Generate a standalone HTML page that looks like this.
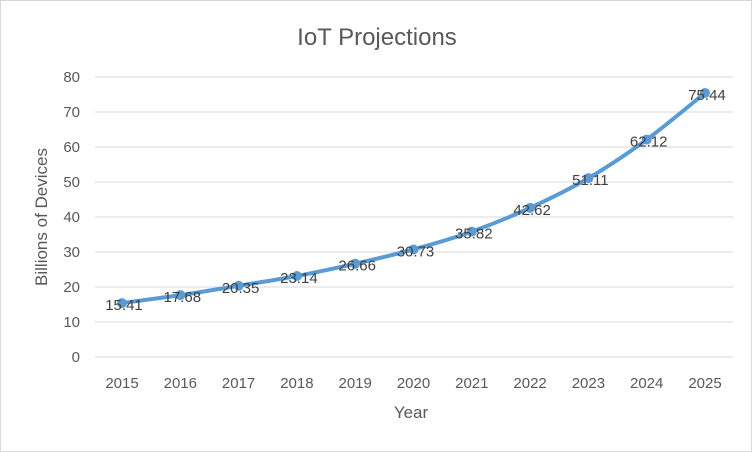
<!DOCTYPE html>
<html><head><meta charset="utf-8"><style>
body{margin:0;background:#fff;}
svg{display:block;font-family:"Liberation Sans",Calibri,sans-serif;}
</style></head><body>
<svg id="chart" width="752" height="452">
<rect x="0.5" y="0.5" width="751" height="451" fill="#fff" stroke="#d9d9d9"/>
<text x="377" y="45" text-anchor="middle" font-size="24" fill="#595959">IoT Projections</text>
<g id="grid"></g><g id="yticks"></g><g id="xticks"></g><g id="series"></g><g id="labels"></g>
<text x="411" y="418" text-anchor="middle" font-size="17" fill="#595959">Year</text>
<text transform="translate(47,217) rotate(-90)" text-anchor="middle" font-size="17" fill="#595959">Billions of Devices</text>
</svg>
<script>
const years=["2015","2016","2017","2018","2019","2020","2021","2022","2023","2024","2025"];
const values=[15.41,17.68,20.35,23.14,26.66,30.73,35.82,42.62,51.11,62.12,75.44];
const yTicks=[0,10,20,30,40,50,60,70,80];
const NS="http://www.w3.org/2000/svg";
const x0=122,x1=705,yBase=357,yTop=77,yMax=80;
const xs=i=>x0+(x1-x0)*i/(years.length-1);
const ys=v=>yBase-(yBase-yTop)*v/yMax;
function mk(tag,attrs,parent,text){const e=document.createElementNS(NS,tag);for(const k in attrs)e.setAttribute(k,attrs[k]);if(text!==undefined)e.textContent=text;document.getElementById(parent).appendChild(e);return e;}
yTicks.forEach(t=>{
 const l=mk("line",{x1:95,x2:733,y1:ys(t),y2:ys(t),stroke:"#d9d9d9","stroke-width":1},"grid");
 
 
 const tx=mk("text",{x:80,y:ys(t)+5,"text-anchor":"end","font-size":15,fill:"#595959"},"yticks",t);
 
 
});
years.forEach((y,i)=>{
 const tx=mk("text",{x:xs(i),y:388,"text-anchor":"middle","font-size":15,fill:"#595959"},"xticks",y);
 
 
});
const pts=values.map((v,i)=>[xs(i),ys(v)]);
let d="M"+pts[0][0]+","+pts[0][1];
for(let i=0;i<pts.length-1;i++){
 const p0=pts[Math.max(0,i-1)],p1=pts[i],p2=pts[i+1],p3=pts[Math.min(pts.length-1,i+2)];
 const c1=[p1[0]+(p2[0]-p0[0])/6,p1[1]+(p2[1]-p0[1])/6];
 const c2=[p2[0]-(p3[0]-p1[0])/6,p2[1]-(p3[1]-p1[1])/6];
 d+=` C${c1[0]},${c1[1]} ${c2[0]},${c2[1]} ${p2[0]},${p2[1]}`;
}
const path=mk("path",{d:d,fill:"none",stroke:"#5b9bd5","stroke-width":4,"stroke-linecap":"round"},"series");


pts.forEach((p,i)=>{
 const c=mk("circle",{cx:p[0],cy:p[1],r:5,fill:"#5b9bd5"},"series");
 
 
 const t=mk("text",{x:p[0]+2,y:p[1]+7,"text-anchor":"middle","font-size":15,fill:"#404040"},"labels",values[i].toFixed(2));
 
 
});
</script>
</body></html>
